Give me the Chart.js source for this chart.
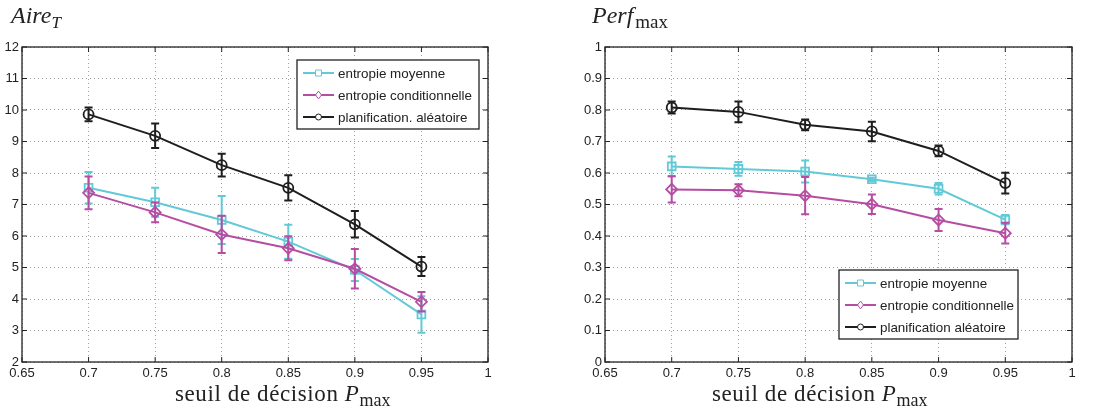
<!DOCTYPE html>
<html>
<head>
<meta charset="utf-8">
<script src="https://cdn.jsdelivr.net/npm/chart.js@4.4.1/dist/chart.umd.min.js"></script>
<style>
body{margin:0;background:#fff;width:1115px;height:414px;overflow:hidden;position:relative;font-family:"Liberation Serif",serif;color:#222;}
.graf{position:absolute;top:0;height:414px;}
#g1{left:0;width:557px;}
#g2{left:557px;width:558px;}
.titre{position:absolute;top:2px;font-size:24px;font-style:italic;white-space:nowrap;}
.titre sub{font-size:17px;vertical-align:-5px;}
.titre .droit{font-style:normal;font-size:19px;margin-left:2px;}
.xlab{position:absolute;top:381px;font-size:23px;letter-spacing:0.6px;white-space:nowrap;}
.xlab sub{font-size:18px;vertical-align:-5px;letter-spacing:0;}
</style>
</head>
<body>
<div class="graf" id="g1"><canvas id="c1"></canvas></div>
<div class="graf" id="g2"><canvas id="c2"></canvas></div>
<div class="titre" style="left:11px">Aire<sub>T</sub></div>
<div class="titre" style="left:592px">Perf<sub class="droit">max</sub></div>
<div class="xlab" style="left:175px">seuil de décision <i>P</i><sub>max</sub></div>
<div class="xlab" style="left:712px">seuil de décision <i>P</i><sub>max</sub></div>
<script>
// seuils de decision (axe x)
var seuils = [0.7, 0.75, 0.8, 0.85, 0.9, 0.95];

// Aire_T
var aireMoyenne      = [7.53, 7.07, 6.51, 5.82, 4.92, 3.51];
var aireMoyenneErr   = [0.50, 0.46, 0.76, 0.54, 0.35, 0.58];
var aireCond         = [7.37, 6.75, 6.05, 5.61, 4.96, 3.91];
var aireCondErr      = [0.52, 0.31, 0.59, 0.38, 0.63, 0.31];
var aireAlea         = [9.86, 9.18, 8.25, 7.53, 6.37, 5.03];
var aireAleaErr      = [0.22, 0.39, 0.36, 0.40, 0.42, 0.30];

// Perf_max
var perfMoyenne      = [0.621, 0.613, 0.605, 0.580, 0.550, 0.452];
var perfMoyenneErr   = [0.031, 0.022, 0.035, 0.005, 0.018, 0.015];
var perfCond         = [0.548, 0.545, 0.528, 0.501, 0.451, 0.409];
var perfCondErr      = [0.042, 0.019, 0.059, 0.031, 0.035, 0.033];
var perfAlea         = [0.808, 0.794, 0.753, 0.732, 0.670, 0.568];
var perfAleaErr      = [0.019, 0.033, 0.017, 0.031, 0.017, 0.033];

var nomsSeries1 = ["entropie moyenne", "entropie conditionnelle", "planification. aléatoire"];
var nomsSeries2 = ["entropie moyenne", "entropie conditionnelle", "planification aléatoire"];

var couleurs = ["#62c9d7", "#b54da2", "#1e1e1e"];
var styles = ["rect", "rectRot", "circle"];

Chart.defaults.font.family = "'Liberation Sans', Arial, sans-serif";
Chart.defaults.font.size = 13;
Chart.defaults.color = "#222";

function points(vals){
    var res = [];
    for(var i in vals)
        res.push({x: seuils[i], y: vals[i]});
    return res;
}

function serie(nom, vals, errs, k){
    return {
        label: nom,
        data: points(vals),
        erreurs: errs,
        borderColor: couleurs[k],
        backgroundColor: "rgba(255,255,255,0)",
        borderWidth: 2,
        pointStyle: styles[k],
        pointRadius: k == 2 ? 5 : 5.5,
        pointBorderWidth: 1.8,
        pointBackgroundColor: "rgba(255,255,255,0)",
        order: 3 - k
    };
}

// barres d'erreur
var pluginErreurs = {
    id: "erreurs",
    afterDatasetDraw: function(chart, args){
        var ds = chart.data.datasets[args.index];
        if(!ds.erreurs) return;
        var ctx = chart.ctx, sx = chart.scales.x, sy = chart.scales.y;
        ctx.save();
        ctx.strokeStyle = ds.borderColor;
        ctx.lineWidth = 2;
        for(var i = 0; i < ds.data.length; i++){
            var p = ds.data[i], e = ds.erreurs[i];
            var x = sx.getPixelForValue(p.x);
            var y1 = sy.getPixelForValue(p.y - e), y2 = sy.getPixelForValue(p.y + e);
            ctx.beginPath();
            ctx.moveTo(x, y1); ctx.lineTo(x, y2);
            ctx.moveTo(x - 4, y1); ctx.lineTo(x + 4, y1);
            ctx.moveTo(x - 4, y2); ctx.lineTo(x + 4, y2);
            ctx.stroke();
        }
        ctx.restore();
    }
};

// cadre + graduations vers l'interieur (style matlab)
var pluginCadre = {
    id: "cadre",
    beforeDatasetsDraw: function(chart){
        var a = chart.chartArea, ctx = chart.ctx;
        ctx.save();
        ctx.strokeStyle = "#222";
        ctx.lineWidth = 1.3;
        ctx.strokeRect(a.left, a.top, a.right - a.left, a.bottom - a.top);
        ctx.lineWidth = 1;
        ctx.beginPath();
        chart.scales.x.ticks.forEach(function(t){
            var x = chart.scales.x.getPixelForValue(t.value);
            ctx.moveTo(x, a.bottom); ctx.lineTo(x, a.bottom - 5);
            ctx.moveTo(x, a.top); ctx.lineTo(x, a.top + 5);
        });
        chart.scales.y.ticks.forEach(function(t){
            var y = chart.scales.y.getPixelForValue(t.value);
            ctx.moveTo(a.left, y); ctx.lineTo(a.left + 5, y);
            ctx.moveTo(a.right, y); ctx.lineTo(a.right - 5, y);
        });
        ctx.stroke();
        ctx.restore();
    }
};

function marqueur(ctx, style, x, y, r){
    ctx.beginPath();
    if(style == "rect")
        ctx.rect(x - r, y - r, 2 * r, 2 * r);
    else if(style == "rectRot"){
        ctx.moveTo(x, y - r * 1.3); ctx.lineTo(x + r, y);
        ctx.lineTo(x, y + r * 1.3); ctx.lineTo(x - r, y); ctx.closePath();
    } else
        ctx.arc(x, y, r, 0, Math.PI * 2);
    ctx.fillStyle = "#fff";
    ctx.fill();
    ctx.stroke();
}

// legende dans la zone du graphique
var pluginLegende = {
    id: "legende",
    afterDraw: function(chart, args, opts){
        var ctx = chart.ctx, a = chart.chartArea;
        var x0 = a.right - opts.droite - opts.largeur;
        var y0 = opts.haut != null ? a.top + opts.haut : a.bottom - opts.bas - opts.hauteur;
        ctx.save();
        ctx.fillStyle = "#fff";
        ctx.fillRect(x0, y0, opts.largeur, opts.hauteur);
        ctx.strokeStyle = "#222";
        ctx.lineWidth = 1.3;
        ctx.strokeRect(x0, y0, opts.largeur, opts.hauteur);
        ctx.font = "13.4px 'Liberation Sans', Arial, sans-serif";
        ctx.textBaseline = "middle";
        chart.data.datasets.forEach(function(ds, i){
            var y = y0 + 13 + i * 22;
            ctx.strokeStyle = ds.borderColor;
            ctx.lineWidth = 2;
            ctx.beginPath(); ctx.moveTo(x0 + 6, y); ctx.lineTo(x0 + 37, y); ctx.stroke();
            ctx.lineWidth = 1;
            marqueur(ctx, ds.pointStyle, x0 + 21.5, y, 3);
            ctx.fillStyle = "#222";
            ctx.fillText(ds.label, x0 + 41, y + 1);
        });
        ctx.restore();
    }
};

function fmt(v){
    return String(parseFloat(v.toFixed(2)));
}

function Grafique(id, series, ymin, ymax, pas, largeurY, droite, legende){
    var ctx = document.getElementById(id).getContext("2d");
    return new Chart(ctx, {
        type: "line",
        data: { datasets: series },
        plugins: [pluginCadre, pluginErreurs, pluginLegende],
        options: {
            responsive: true,
            maintainAspectRatio: false,
            animation: false,
            layout: { padding: { left: 0, right: droite, top: 47, bottom: 0 } },
            plugins: {
                legend: { display: false },
                tooltip: { enabled: false },
                legende: legende
            },
            scales: {
                x: {
                    type: "linear",
                    min: 0.65, max: 1,
                    ticks: { stepSize: 0.05, padding: 4, maxRotation: 0, callback: fmt },
                    grid: { color: "#a0a0a0", lineWidth: 1, drawTicks: false },
                    border: { display: false, dash: [1, 3] },
                    afterFit: function(s){ s.height = 52; }
                },
                y: {
                    min: ymin, max: ymax,
                    ticks: { stepSize: pas, padding: 3, callback: fmt },
                    grid: { color: "#a0a0a0", lineWidth: 1, drawTicks: false },
                    border: { display: false, dash: [1, 3] },
                    afterFit: function(s){ s.width = largeurY; }
                }
            }
        }
    });
}

Grafique("c1", [
    serie(nomsSeries1[0], aireMoyenne, aireMoyenneErr, 0),
    serie(nomsSeries1[1], aireCond, aireCondErr, 1),
    serie(nomsSeries1[2], aireAlea, aireAleaErr, 2)
], 2, 12, 1, 22, 69, { droite: 9, haut: 13, largeur: 182, hauteur: 69 });

Grafique("c2", [
    serie(nomsSeries2[0], perfMoyenne, perfMoyenneErr, 0),
    serie(nomsSeries2[1], perfCond, perfCondErr, 1),
    serie(nomsSeries2[2], perfAlea, perfAleaErr, 2)
], 0, 1, 0.1, 48, 43, { droite: 54, bas: 23, largeur: 179, hauteur: 69 });
</script>
</body>
</html>
